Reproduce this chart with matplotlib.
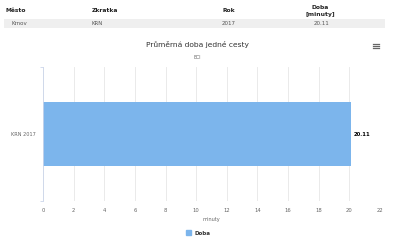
import matplotlib
matplotlib.use("Agg")
import matplotlib.pyplot as plt
from matplotlib.patches import Rectangle

# table data
table_headers = ["Město", "Zkratka", "Rok", "Doba\n[minuty]"]
table_row = ["Krnov", "KRN", "2017", "20.11"]

# chart data
categories = ["KRN 2017"]
values = [20.11]
xticks = list(range(0, 23, 2))

W, H = 400, 249
fig = plt.figure(figsize=(W / 100, H / 100), dpi=100)
fig.patch.set_facecolor("white")


def fx(px):
    return px / W


def fy(py):
    return 1 - py / H


# --- table on top ---
col_x = [5, 92, 222, 320]
col_ha = ["left", "left", "left", "center"]
for x, ha, t in zip(col_x, col_ha, table_headers):
    fig.text(fx(x), fy(11), t, ha=ha, va="center", fontsize=4.3,
             fontweight="bold", color="#222222", linespacing=1.3)
fig.patches.append(Rectangle((fx(4), fy(28)), fx(381), 9 / H,
                             transform=fig.transFigure, facecolor="#efefef",
                             edgecolor="none"))
row_x = [11, 92, 222, 322]
for x, ha, t in zip(row_x, col_ha, table_row):
    fig.text(fx(x), fy(23.5), t, ha=ha, va="center", fontsize=4,
             color="#555555")

# --- chart titles ---
fig.text(fx(197), fy(45), "Průměrná doba jedné cesty", ha="center",
         va="center", fontsize=5.4, color="#333333")
fig.text(fx(197), fy(57.5), "ECI", ha="center", va="center", fontsize=3.3,
         color="#666666")
for dy in (-2, 0, 2):
    fig.lines.append(plt.Line2D([fx(373), fx(379)], [fy(46 + dy)] * 2,
                                transform=fig.transFigure, color="#666666",
                                lw=0.9))

# --- bar chart ---
ax = fig.add_axes([fx(43), fy(201), fx(380) - fx(43), (201 - 67) / H])
y_pos = list(range(len(categories)))
ax.barh(y_pos, values, height=0.48, color="#7cb5ec", zorder=2)
for y, v in zip(y_pos, values):
    ax.text(v + 0.2, y, f"{v:.2f}", va="center", ha="left", fontsize=3.8,
            fontweight="bold", color="#000000")

ax.set_xlim(0, 22)
ax.set_ylim(-0.5, 0.5)
ax.invert_yaxis()
ax.set_xticks(xticks)
ax.set_xticklabels([str(t) for t in xticks])
ax.set_yticks(y_pos)
ax.set_yticklabels(categories)
ax.set_yticks([-0.5, 0.5], minor=True)
ax.tick_params(axis="x", length=0, labelsize=3.8, labelcolor="#666666",
               pad=5)
ax.tick_params(axis="y", which="major", length=0, labelsize=3.6,
               labelcolor="#666666", pad=5)
ax.tick_params(axis="y", which="minor", length=2.5, width=0.6,
               color="#ccd6eb")
ax.grid(axis="x", color="#e6e6e6", lw=0.6, zorder=0)
for s in ("top", "right", "bottom"):
    ax.spines[s].set_visible(False)
ax.spines["left"].set_color("#ccd6eb")
ax.spines["left"].set_linewidth(0.6)
ax.set_xlabel("minuty", fontsize=3.6, color="#666666", labelpad=3)

# legend
leg = fig.legend([Rectangle((0, 0), 1, 1, color="#7cb5ec")], ["Doba"],
                 loc="center", bbox_to_anchor=(fx(198), fy(233)),
                 frameon=False, fontsize=4.0, handlelength=1.0,
                 handleheight=1.0, handletextpad=0.5)
for t in leg.get_texts():
    t.set_fontweight("bold")
    t.set_color("#333333")

fig.savefig("out.png", dpi=100)
